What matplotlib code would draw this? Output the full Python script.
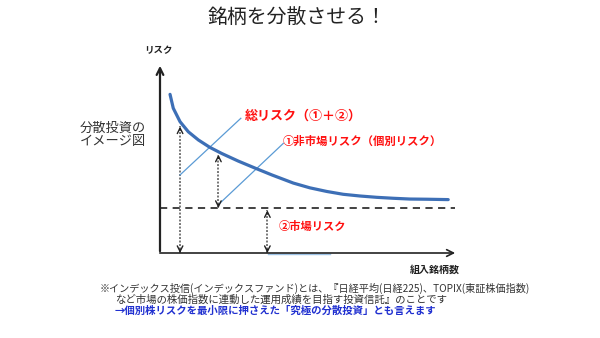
import numpy as np
import matplotlib
matplotlib.use("Agg")
import matplotlib.pyplot as plt

plt.rcParams['font.family'] = ['Noto Sans CJK JP', 'DejaVu Sans']

# schematic values (x: number of stocks, y: risk, both 0-100)
stocks = [3.4, 4.5, 6.8, 9.6, 13.0, 16.9, 20.9, 26.5, 32.2, 37.9, 45.2,
          50.8, 56.5, 62.1, 67.8, 73.5, 79.1, 84.7, 90.4, 97.7]
total_risk = [83.5, 76.2, 69.1, 63.8, 59.5, 55.6, 52.4, 48.4, 44.7, 41.1, 36.8,
              34.3, 32.4, 30.9, 30.0, 29.3, 28.8, 28.4, 28.3, 28.1]
market_risk = 23.7
arrow_x = [6.8, 19.8, 36.4]

title = "銘柄を分散させる！"
notes = [
    "※インデックス投信(インデックスファンド)とは、『日経平均(日経225)、TOPIX(東証株価指数)",
    "など市場の株価指数に連動した運用成績を目指す投資信託』のことです",
    "→個別株リスクを最小限に押さえた「究極の分散投資」とも言えます",
]

W, H = 600, 338
fig = plt.figure(figsize=(6, 3.38), dpi=100)

def fx(px):
    return px / W

def fy(py):
    return 1 - py / H

# chart area: pixels x 160..455, y 253..63
ax = fig.add_axes([fx(160), fy(253), (455 - 160) / W, (253 - 63) / H])
ax.set_xlim(0, 100)
ax.set_ylim(0, 100)
ax.axis('off')

# axes with arrows
ax.annotate('', xy=(0, 100), xytext=(0, -0.5),
            arrowprops=dict(arrowstyle='->', lw=1.6, color='#222222', mutation_scale=12),
            annotation_clip=False)
ax.annotate('', xy=(101, 0), xytext=(-1, 0),
            arrowprops=dict(arrowstyle='->', lw=1.2, color='#222222', mutation_scale=12),
            annotation_clip=False)

# total risk curve
ax.plot(stocks, total_risk, color='#3d6fb6', lw=2.3, solid_capstyle='round',
        solid_joinstyle='round', zorder=3)

# market risk dashed line
ax.plot([0, 101], [market_risk, market_risk], color='#333333', lw=1.3,
        ls=(0, (4, 3)), zorder=2)

# stray light blue segment on the x axis
ax.plot([36.6, 57.6], [-0.6, -0.6], color='#9dc3e6', lw=1.0, clip_on=False)

# dotted double arrows
spans = [
    (arrow_x[0], 0, np.interp(arrow_x[0], stocks, total_risk) - 2.5),
    (arrow_x[1], market_risk, np.interp(arrow_x[1], stocks, total_risk) - 1.5),
    (arrow_x[2], 0, market_risk - 1.2),
]
for x, lo, hi in spans:
    ax.plot([x, x], [lo, hi], color='#777777', lw=1.4, ls=(0, (1, 0.8)), zorder=2)
    for a, b in ((hi, hi - 2), (lo, lo + 2)):
        ax.annotate('', xy=(x, a), xytext=(x, b),
                    arrowprops=dict(arrowstyle='->', lw=1.0, color='#222222',
                                    mutation_scale=10, shrinkA=0, shrinkB=0),
                    annotation_clip=False)

# leader lines
ax.plot([6.8, 27.4], [41.1, 70.9], color='#5b9bd5', lw=0.9, zorder=2)
ax.plot([20.3, 41.8], [26.2, 57.7], color='#5b9bd5', lw=0.9, zorder=2)

# labels
ax.text(28.8, 72.4, "総リスク（①＋②）", color='#ff1010', fontsize=9.4,
        fontweight='bold', va='center', ha='left')
ax.text(41.7, 58.6, "①非市場リスク（個別リスク）", color='#ff1010', fontsize=8.2,
        fontweight='bold', va='center', ha='left')
ax.text(40.1, 13.8, "②市場リスク", color='#ff1010', fontsize=8.1,
        fontweight='bold', va='center', ha='left')

# figure texts
fig.text(fx(297), fy(18), title, fontsize=14.3, color='#222222', ha='center', va='center')
fig.text(fx(158), fy(50), "リスク", fontsize=6.8, fontweight='bold', color='#222222',
         ha='center', va='center')
fig.text(fx(80), fy(128), "分散投資の", fontsize=9.5, color='#333333', ha='left', va='center')
fig.text(fx(80), fy(142), "イメージ図", fontsize=9.5, color='#333333', ha='left', va='center')
fig.text(fx(435), fy(270), "組入銘柄数", fontsize=7.2, fontweight='bold', color='#222222',
         ha='center', va='center')

fig.text(fx(100), fy(288.5), notes[0], fontsize=7.3, color='#333333', ha='left', va='center')
fig.text(fx(115), fy(299.5), notes[1], fontsize=7.5, color='#333333', ha='left', va='center')
fig.text(fx(115), fy(310.5), notes[2], fontsize=7.5, fontweight='bold', color='#2030d0',
         ha='left', va='center')

fig.savefig("out.png", dpi=100)
